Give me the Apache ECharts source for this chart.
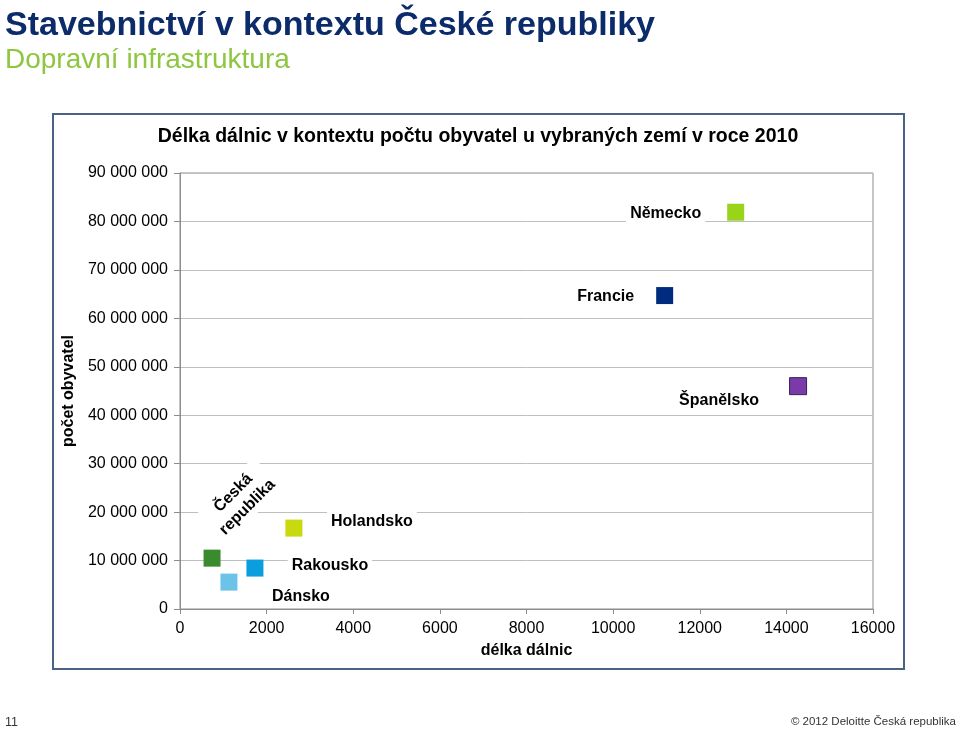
<!DOCTYPE html>
<html>
<head>
<meta charset="utf-8">
<script src="https://cdn.jsdelivr.net/npm/echarts@6/dist/echarts.min.js"></script>
<style>
html,body{margin:0;padding:0;background:#fff;}
#chart{width:960px;height:730px;}
</style>
</head>
<body>
<div id="chart"></div>
<script>
// ---- data ----
var countries = ['Česká republika', 'Dánsko', 'Rakousko', 'Holandsko', 'Francie', 'Německo', 'Španělsko'];
var motorwayKm = [740, 1130, 1730, 2630, 11190, 12830, 14270];
var population = [10500000, 5550000, 8450000, 16700000, 64700000, 81900000, 46000000];
var labelTexts = ['Česká\nrepublika', 'Dánsko', 'Rakousko', 'Holandsko', 'Francie', 'Německo', 'Španělsko'];
var colors = ['#3C8A2E', '#6CC3E8', '#0A9EDF', '#C9D90F', '#002B7F', '#99D31A', '#7A3BA8'];
var xTicks = [0, 2000, 4000, 6000, 8000, 10000, 12000, 14000, 16000];
var yTicks = [0, 10000000, 20000000, 30000000, 40000000, 50000000, 60000000, 70000000, 80000000, 90000000];

var FONT = 'Liberation Sans, Arial, sans-serif';
// label placement styles (not data)
var labelStyle = [
  {offset: [61, -21], rotate: 45},
  {offset: [72, 14]},
  {offset: [75, -2]},
  {offset: [78, -7]},
  {offset: [-59, 1]},
  {offset: [-70, 1]},
  {offset: [-79, 14]}
];

function fmt(v) {
  return String(v).replace(/\B(?=(\d{3})+(?!\d))/g, ' ');
}

var series = countries.map(function (c, i) {
  var ls = labelStyle[i];
  return {
    name: c,
    type: 'scatter',
    symbol: 'rect',
    symbolSize: 17,
    data: [[motorwayKm[i], population[i]]],
    itemStyle: {
      color: colors[i],
      opacity: 1,
      borderColor: c === 'Španělsko' ? '#3A1D5C' : colors[i],
      borderWidth: c === 'Španělsko' ? 1 : 0
    },
    label: {
      show: true,
      position: 'inside',
      offset: ls.offset,
      rotate: ls.rotate || 0,
      formatter: labelTexts[i],
      color: '#000',
      fontFamily: FONT,
      fontWeight: 'bold',
      fontSize: 16,
      lineHeight: 20,
      align: 'center',
      backgroundColor: '#fff',
      padding: [1, 4]
    },
    emphasis: {disabled: true},
    silent: true,
    z: 3
  };
});

var chart = echarts.init(document.getElementById('chart'), null, {renderer: 'canvas'});
chart.setOption({
  backgroundColor: '#fff',
  animation: false,
  title: [
    {text: 'Stavebnictví v kontextu České republiky', left: 0, top: 4,
     textStyle: {fontFamily: FONT, fontWeight: 'bold', fontSize: 34, color: '#0C2B6B'}},
    {text: 'Dopravní infrastruktura', left: 0, top: 41,
     textStyle: {fontFamily: FONT, fontWeight: 'normal', fontSize: 28, color: '#8DC63F'}},
    {text: 'Délka dálnic v kontextu počtu obyvatel u vybraných zemí v roce 2010', left: 473, textAlign: 'center', top: 122,
     textStyle: {fontFamily: FONT, fontWeight: 'bold', fontSize: 19.5, color: '#000'}},
    {text: '11', left: 0, top: 711,
     textStyle: {fontFamily: FONT, fontWeight: 'normal', fontSize: 12.5, color: '#333'}},
    {text: '© 2012 Deloitte Česká republika', right: -1, top: 711,
     textStyle: {fontFamily: FONT, fontWeight: 'normal', fontSize: 11.5, color: '#333'}}
  ],
  graphic: [
    {type: 'rect', shape: {x: 53, y: 114, width: 851, height: 555}, z: -10,
     style: {fill: '#fff', stroke: '#4A6284', lineWidth: 2}}
  ],
  grid: {left: 180, right: 87, top: 173, bottom: 121, show: true, borderColor: '#8C8C8C', borderWidth: 1, backgroundColor: 'transparent'},
  xAxis: {
    type: 'value', min: xTicks[0], max: xTicks[xTicks.length - 1], interval: xTicks[1] - xTicks[0],
    name: 'délka dálnic', nameLocation: 'middle', nameGap: 34,
    nameTextStyle: {fontFamily: FONT, fontWeight: 'bold', fontSize: 16, color: '#000'},
    axisLine: {show: true, lineStyle: {color: '#8C8C8C'}},
    axisTick: {show: true, length: 5, lineStyle: {color: '#8C8C8C'}},
    axisLabel: {fontFamily: FONT, fontSize: 16, color: '#000', margin: 12, formatter: function (v) { return String(v); }},
    splitLine: {show: false}
  },
  yAxis: {
    type: 'value', min: yTicks[0], max: yTicks[yTicks.length - 1], interval: yTicks[1] - yTicks[0],
    name: 'počet obyvatel', nameLocation: 'middle', nameGap: 103, nameRotate: 90,
    nameTextStyle: {fontFamily: FONT, fontWeight: 'bold', fontSize: 16, color: '#000'},
    axisLine: {show: true, lineStyle: {color: '#8C8C8C'}},
    axisTick: {show: true, length: 6, lineStyle: {color: '#8C8C8C'}},
    axisLabel: {fontFamily: FONT, fontSize: 16, color: '#000', margin: 12, formatter: fmt},
    splitLine: {show: true, lineStyle: {color: '#BFBFBF', width: 1}}
  },
  series: series
});
</script>
</body>
</html>
